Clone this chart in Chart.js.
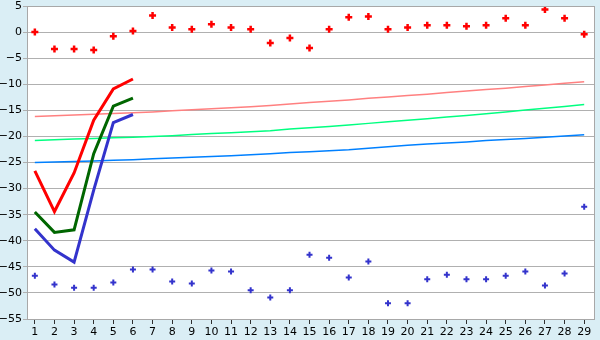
<!DOCTYPE html>
<html>
<head>
<meta charset="utf-8">
<script src="https://cdn.jsdelivr.net/npm/chart.js@4.4.1/dist/chart.umd.min.js"></script>
<style>
  html, body { margin: 0; padding: 0; background: #daeef5; }
  #wrap { width: 600px; height: 340px; }
</style>
</head>
<body>
<div id="wrap"><canvas id="chart"></canvas></div>
<script>
"use strict";

// data
let days = [1, 2, 3, 4, 5, 6, 7, 8, 9, 10, 11, 12, 13, 14, 15, 16, 17, 18, 19, 20, 21, 22, 23, 24, 25, 26, 27, 28, 29];

let redPoints = [0.0, -3.25, -3.25, -3.45, -0.8, 0.2, 3.2, 0.9, 0.55, 1.5, 0.9, 0.55, -2.1, -1.15, -3.05,
  0.55, 2.85, 3.0, 0.55, 0.9, 1.3, 1.3, 1.1, 1.3, 2.65, 1.3, 4.35, 2.65, -0.4];
let bluePoints = [-46.7, -48.4, -49.0, -49.0, -48.0, -45.5, -45.5, -47.8, -48.2, -45.7, -45.9, -49.5, -50.9, -49.5, -42.7,
  -43.25, -47.05, -44.0, -52.0, -52.0, -47.4, -46.5, -47.4, -47.4, -46.7, -45.9, -48.6, -46.3, -33.5];

// the three heavy lines only cover the first six days
let redLine = [-26.6, -34.4, -27.0, -16.9, -10.9, -9.0];
let greenLine = [-34.5, -38.4, -37.9, -23.3, -14.2, -12.65];
let blueLine = [-37.7, -41.8, -44.1, -30.3, -17.35, -15.8];

// thin trend lines
let pinkTrend = [-16.2, -16.05, -15.9, -15.75, -15.6, -15.45, -15.3, -15.1, -14.9, -14.7, -14.5, -14.3, -14.05, -13.8, -13.5,
  -13.25, -13.0, -12.7, -12.45, -12.15, -11.9, -11.6, -11.3, -11.0, -10.75, -10.45, -10.15, -9.8, -9.5];
let greenTrend = [-20.8, -20.65, -20.5, -20.4, -20.25, -20.15, -20.0, -19.85, -19.65, -19.45, -19.3, -19.1, -18.9, -18.6, -18.35,
  -18.1, -17.8, -17.5, -17.2, -16.9, -16.6, -16.3, -16.0, -15.65, -15.3, -14.95, -14.6, -14.25, -13.9];
let blueTrend = [-25.0, -24.9, -24.8, -24.7, -24.55, -24.45, -24.3, -24.15, -24.0, -23.85, -23.7, -23.5, -23.3, -23.1, -22.95,
  -22.75, -22.55, -22.25, -22.0, -21.7, -21.45, -21.25, -21.05, -20.8, -20.6, -20.4, -20.15, -19.9, -19.7];

let yMin = -55;
let yMax = 5;
let yStep = 5;

// pair each value with its day
let toPoints = values => values.map((v, i) => ({ x: days[i], y: v }));

let lineSet = (values, color, width) => ({
  type: "line",
  data: toPoints(values),
  borderColor: color,
  borderWidth: width,
  pointRadius: 0,
  fill: false,
  tension: 0
});

let markerSet = (values, color, size, width) => ({
  type: "scatter",
  data: toPoints(values),
  showLine: false,
  pointStyle: "cross",
  pointRadius: size,
  pointHoverRadius: size,
  borderColor: color,
  backgroundColor: color,
  pointBorderWidth: width
});

// light blue outside, white plot, grey frame
let plotFrame = {
  id: "plotFrame",
  beforeDraw: chart => {
    let ctx = chart.ctx;
    let area = chart.chartArea;
    ctx.save();
    ctx.fillStyle = "#daeef5";
    ctx.fillRect(0, 0, chart.width, chart.height);
    ctx.fillStyle = "#ffffff";
    ctx.fillRect(area.left, area.top, area.right - area.left, area.bottom - area.top);
    ctx.restore();
  },
  afterDraw: chart => {
    let ctx = chart.ctx;
    let area = chart.chartArea;
    ctx.save();
    ctx.strokeStyle = "#a8a8a8";
    ctx.lineWidth = 1;
    ctx.strokeRect(Math.round(area.left) + 0.5, Math.round(area.top) + 0.5,
      Math.round(area.right - area.left), Math.round(area.bottom - area.top));
    ctx.restore();
  }
};

let font = { family: "DejaVu Sans", size: 11 };

let chart = new Chart(document.querySelector("#chart"), {
  data: {
    datasets: [
      markerSet(redPoints, "#ff0000", 3.5, 2.5),
      markerSet(bluePoints, "#3333cc", 3, 2),
      lineSet(redLine, "#ff0000", 3),
      lineSet(greenLine, "#006600", 3),
      lineSet(blueLine, "#3333cc", 3),
      lineSet(pinkTrend, "#ff8080", 1.5),
      lineSet(greenTrend, "#00ff80", 1.5),
      lineSet(blueTrend, "#0080ff", 1.5)
    ]
  },
  options: {
    responsive: true,
    maintainAspectRatio: false,
    animation: false,
    layout: { padding: { top: 5, right: 5, bottom: 0, left: 0 } },
    plugins: {
      legend: { display: false },
      tooltip: { enabled: false }
    },
    scales: {
      x: {
        type: "linear",
        min: 0.6,
        max: 29.5,
        ticks: {
          stepSize: 1,
          includeBounds: false,
          autoSkip: false,
          maxRotation: 0,
          color: "#000000",
          font: font,
          padding: 2
        },
        grid: {
          drawOnChartArea: false,
          drawTicks: true,
          tickLength: 5,
          color: "#303030"
        },
        border: { color: "#a8a8a8" },
        afterFit: scale => {
          scale.height = 21;
          scale.paddingLeft = 0;
          scale.paddingRight = 0;
        }
      },
      y: {
        min: yMin,
        max: yMax,
        ticks: {
          stepSize: yStep,
          color: "#000000",
          font: font,
          padding: 1,
          callback: v => String(v).replace("-", "\u2212")
        },
        grid: {
          color: "#b0b0b0",
          tickLength: 4
        },
        border: { color: "#a8a8a8" },
        afterFit: scale => {
          scale.width = 27;
          scale.paddingTop = 0;
          scale.paddingBottom = 0;
        }
      }
    }
  },
  plugins: [plotFrame]
});
</script>
</body>
</html>
